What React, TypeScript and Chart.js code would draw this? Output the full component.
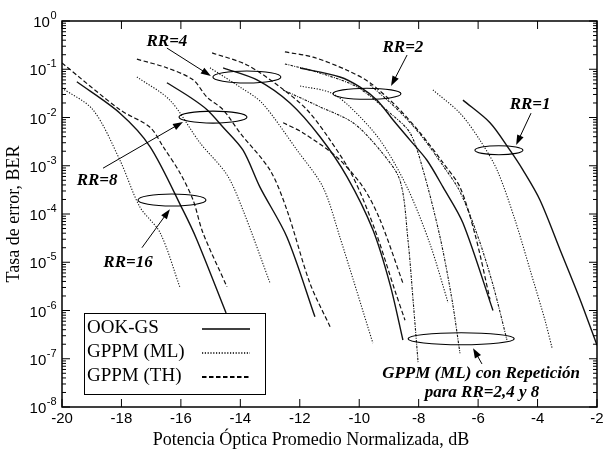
import React, { useEffect, useRef } from "react";
import { Chart, registerables } from "chart.js";
Chart.register(...registerables);

// ---- axis ticks ----
const xTicks = [-20, -18, -16, -14, -12, -10, -8, -6, -4, -2];
const yDecades = [0, -1, -2, -3, -4, -5, -6, -7, -8];

// ---- RR=16 ----
const ook16X = [-19.5, -18.05, -17.04, -15.93, -15.46, -14.48];
const ook16Y = [0.055, 0.0123, 2.5e-3, 1.2e-4, 2.9e-5, 8.9e-7];
const ml16X = [-20.0, -18.96, -18.05, -17.38, -16.7, -16.03];
const ml16Y = [0.0407, 0.0145, 1.3e-3, 1.4e-4, 4.1e-5, 3.0e-6];
const th16X = [-20.0, -18.05, -17.04, -16.6, -16.03, -15.59, -15.26, -14.45];
const th16Y = [0.135, 0.0145, 6.3e-3, 2.5e-3, 7.1e-4, 1.95e-4, 4.1e-5, 3.1e-6];

// ---- RR=8 ----
const ook8X = [-16.47, -15.69, -15.12, -14.58, -13.91, -13.34, -12.43, -11.49];
const ook8Y = [0.0525, 0.0263, 0.0145, 6.3e-3, 2.1e-3, 3.6e-4, 3.3e-5, 7.4e-7];
const ml8X = [-17.48, -16.37, -15.36, -14.45, -13.91, -13.0];
const ml8Y = [0.0692, 0.0229, 3.0e-3, 6.5e-4, 1.2e-4, 3.7e-6];
const th8X = [-17.48, -16.47, -15.59, -15.12, -14.58, -14.01, -13.0, -12.43, -11.66, -10.98];
const th8Y = [0.162, 0.107, 0.0603, 0.0263, 0.0145, 4.8e-3, 8.1e-4, 1.2e-4, 3.7e-6, 4.6e-7];

// ---- RR=4 ----
const ook4X = [-14.58, -13.44, -12.33, -11.32, -10.41, -9.54, -8.96, -8.53];
const ook4Y = [0.107, 0.0603, 0.02, 4.0e-3, 5.9e-4, 4.7e-5, 3.4e-6, 2.45e-7];
const ml4X = [-15.02, -14.01, -13.27, -12.09, -11.22, -10.65, -9.54];
const ml4Y = [0.107, 0.0427, 0.02, 2.1e-3, 3.6e-4, 3.3e-5, 2.1e-7];
const th4X = [-14.95, -13.78, -12.66, -11.76, -10.98, -10.21, -9.47, -8.8, -8.46];
const th4Y = [0.219, 0.123, 0.0427, 0.0145, 3.4e-3, 5.9e-4, 4.7e-5, 2.6e-6, 6.3e-7];
const th4bX = [-12.56, -11.89, -10.75, -9.87, -9.3, -8.53];
const th4bY = [7.8e-3, 4.8e-3, 1.5e-3, 3.6e-4, 7.6e-5, 3.7e-6];

// ---- RR=2 ----
const ook2X = [-11.99, -10.65, -9.97, -9.4, -8.86, -8.29, -7.72, -7.18, -6.51, -5.5];
const ook2Y = [0.106, 0.0692, 0.0427, 0.0229, 8.9e-3, 3.4e-3, 1.3e-3, 3.6e-4, 6.5e-5, 1.0e-6];
const ml2X = [-11.99, -10.98, -10.31, -9.3, -8.39, -7.62, -7.01];
const ml2Y = [0.045, 0.0331, 0.0166, 3.4e-3, 3.6e-4, 2.4e-5, 1.45e-6];
const th2X = [-12.5, -11.55, -10.41, -9.64, -8.73, -7.95, -7.18, -6.61, -6.1, -5.6];
const th2Y = [0.229, 0.178, 0.0955, 0.0525, 0.0166, 4.8e-3, 1.15e-3, 3.6e-4, 3.7e-5, 1.7e-6];

// ---- RR=1 ----
const ook1X = [-6.51, -5.6, -4.93, -4.49, -3.92, -3.24, -2.57, -2.0];
const ook1Y = [0.0229, 7.8e-3, 2.1e-3, 8.1e-4, 1.95e-4, 1.8e-5, 1.7e-6, 1.9e-7];
const ml1X = [-7.52, -6.61, -5.94, -5.36, -4.76, -4.25, -3.75, -3.51];
const ml1Y = [0.0372, 0.0123, 3.4e-3, 8.1e-4, 7.6e-5, 6.9e-6, 6.3e-7, 1.66e-7];

// ---- GPPM (ML) con repetición, RR = 8, 4, 2 ----
const rep8X = [-12.56, -11.32, -10.21, -9.3, -8.63, -8.36, -8.19, -8.02];
const rep8Y = [0.0372, 0.0166, 7.8e-3, 2.1e-3, 5.0e-4, 2.9e-5, 1.7e-6, 8.5e-8];
const rep4X = [-12.5, -11.42, -10.07, -8.96, -8.29, -7.85, -7.28, -6.88, -6.61];
const rep4Y = [0.129, 0.0871, 0.0427, 0.0123, 4.8e-3, 8.1e-4, 3.3e-5, 1.7e-6, 1.3e-7];
const rep2X = [-9.64, -8.73, -7.95, -7.18, -6.61, -6.0, -5.5, -5.03];
const rep2Y = [0.048, 0.015, 4.5e-3, 1.0e-3, 2.9e-4, 3.3e-5, 3.4e-6, 2.45e-7];

// ---- annotations (data coordinates) ----
const ellipses = [
  { x: -13.78, y: 0.069, rx: 34, ry: 6 },
  { x: -14.92, y: 0.0102, rx: 34, ry: 6 },
  { x: -16.3, y: 1.95e-4, rx: 34, ry: 6 },
  { x: -9.74, y: 0.031, rx: 34, ry: 5.5 },
  { x: -5.3, y: 2.1e-3, rx: 24, ry: 4.5 },
  { x: -6.57, y: 2.6e-7, rx: 53, ry: 6 },
];
const labels = [
  { text: "RR=4", x: -16.47, y: 0.367 },
  { text: "RR=8", x: -18.82, y: 5.0e-4 },
  { text: "RR=16", x: -17.78, y: 9.6e-6 },
  { text: "RR=2", x: -8.53, y: 0.275 },
  { text: "RR=1", x: -4.25, y: 0.0182 },
];
const noteLines = [
  { text: "GPPM (ML) con Repetición", x: -5.9, y: 5.0e-8 },
  { text: "para RR=2,4 y 8", x: -5.87, y: 2.0e-8 },
];
const arrows = [
  { x1: -16.47, y1: 0.275, x2: -14.99, y2: 0.0724 },
  { x1: -18.62, y1: 8.9e-4, x2: -15.93, y2: 8.1e-3 },
  { x1: -17.31, y1: 2.0e-5, x2: -16.37, y2: 1.26e-4 },
  { x1: -8.39, y1: 0.197, x2: -8.93, y2: 0.0448 },
  { x1: -4.22, y1: 0.0123, x2: -4.72, y2: 2.7e-3 },
  { x1: -5.87, y1: 7.8e-8, x2: -6.17, y2: 1.66e-7 },
];
const legendItems = ["OOK-GS", "GPPM (ML)", "GPPM (TH)"];

const SOLID: number[] = [];
const DOT = [1.2, 1.6];
const DASH = [4.5, 2.5];
const REP = [2.5, 1.2, 1, 1.2];

function ds(xs: number[], ys: number[], dash: number[], width: number) {
  return {
    data: xs.map((x, i) => ({ x, y: ys[i] })),
    borderColor: "#111",
    borderWidth: width,
    borderDash: dash,
    pointRadius: 0,
    fill: false,
    tension: 0.3,
  };
}

const overlay = {
  id: "overlay",
  afterDatasetsDraw(chart: any) {
    const ctx = chart.ctx as CanvasRenderingContext2D;
    const xs = chart.scales.x;
    const ys = chart.scales.y;
    const a = chart.chartArea;
    const px = (v: number) => xs.getPixelForValue(v);
    const py = (v: number) => ys.getPixelForValue(v);
    ctx.save();
    ctx.strokeStyle = "#000";
    ctx.fillStyle = "#000";
    ctx.setLineDash([]);

    // ellipses
    ctx.lineWidth = 1.1;
    ellipses.forEach((e) => {
      ctx.beginPath();
      ctx.ellipse(px(e.x), py(e.y), e.rx, e.ry, 0, 0, Math.PI * 2);
      ctx.stroke();
    });
    // arrows
    arrows.forEach((r) => {
      const x1 = px(r.x1), y1 = py(r.y1), x2 = px(r.x2), y2 = py(r.y2);
      const ang = Math.atan2(y2 - y1, x2 - x1);
      const L = 10, W = 3.5;
      ctx.lineWidth = 1;
      ctx.beginPath();
      ctx.moveTo(x1, y1);
      ctx.lineTo(x2 - Math.cos(ang) * L * 0.8, y2 - Math.sin(ang) * L * 0.8);
      ctx.stroke();
      ctx.beginPath();
      ctx.moveTo(x2, y2);
      ctx.lineTo(x2 - Math.cos(ang) * L - Math.sin(ang) * W, y2 - Math.sin(ang) * L + Math.cos(ang) * W);
      ctx.lineTo(x2 - Math.cos(ang) * L + Math.sin(ang) * W, y2 - Math.sin(ang) * L - Math.cos(ang) * W);
      ctx.closePath();
      ctx.fill();
    });
    // labels
    ctx.textAlign = "center";
    ctx.textBaseline = "middle";
    ctx.font = "bold italic 17px 'Liberation Serif', 'Times New Roman', serif";
    labels.forEach((l) => ctx.fillText(l.text, px(l.x), py(l.y)));
    ctx.font = "bold italic 17px 'Liberation Serif', 'Times New Roman', serif";
    noteLines.forEach((l) => ctx.fillText(l.text, px(l.x), py(l.y)));

    // frame
    ctx.lineWidth = 1.5;
    ctx.strokeRect(a.left, a.top, a.right - a.left, a.bottom - a.top);
    // y ticks
    ctx.lineWidth = 1;
    yDecades.forEach((d) => {
      const y = py(Math.pow(10, d));
      ctx.beginPath();
      ctx.moveTo(a.left, y); ctx.lineTo(a.left + 8, y);
      ctx.moveTo(a.right, y); ctx.lineTo(a.right - 8, y);
      ctx.stroke();
      if (d < 0) {
        for (let k = 2; k <= 9; k++) {
          const ym = py(k * Math.pow(10, d));
          ctx.beginPath();
          ctx.moveTo(a.left, ym); ctx.lineTo(a.left + 4, ym);
          ctx.moveTo(a.right, ym); ctx.lineTo(a.right - 4, ym);
          ctx.stroke();
        }
      }
      // label 10^d
      ctx.textBaseline = "middle";
      const exp = String(d);
      ctx.font = "11px 'Liberation Sans', Arial, sans-serif";
      const ew = ctx.measureText(exp).width;
      const baseRight = a.left - 6 - ew;
      ctx.textAlign = "right";
      ctx.font = "15px 'Liberation Sans', Arial, sans-serif";
      ctx.fillText("10", baseRight, y + 2);
      ctx.font = "11px 'Liberation Sans', Arial, sans-serif";
      ctx.textAlign = "left";
      ctx.fillText(exp, baseRight + 0.5, y - 5);
    });
    // x ticks
    ctx.font = "15px 'Liberation Sans', Arial, sans-serif";
    ctx.textAlign = "center";
    ctx.textBaseline = "top";
    xTicks.forEach((t) => {
      const x = px(t);
      ctx.beginPath();
      ctx.moveTo(x, a.bottom); ctx.lineTo(x, a.bottom - 8);
      ctx.moveTo(x, a.top); ctx.lineTo(x, a.top + 8);
      ctx.stroke();
      ctx.fillText(String(t), x, a.bottom + 4);
    });
    // axis titles
    ctx.font = "18px 'Liberation Serif', 'Times New Roman', serif";
    ctx.textBaseline = "middle";
    ctx.fillText("Potencia Óptica Promedio Normalizada, dB", 311, a.bottom + 33);
    ctx.save();
    ctx.translate(14, (a.top + a.bottom) / 2);
    ctx.rotate(-Math.PI / 2);
    ctx.fillText("Tasa de error, BER", 0, 0);
    ctx.restore();

    // legend
    const lx = 84, ly = 313, lw = 181, lh = 81;
    ctx.fillStyle = "#fff";
    ctx.fillRect(lx, ly, lw, lh);
    ctx.fillStyle = "#000";
    ctx.lineWidth = 1;
    ctx.strokeRect(lx + 0.5, ly + 0.5, lw, lh);
    ctx.font = "19px 'Liberation Serif', 'Times New Roman', serif";
    ctx.textAlign = "left";
    const dashes = [SOLID, DOT, DASH];
    const widths = [1.5, 1.3, 1.8];
    legendItems.forEach((t, i) => {
      const yy = ly + 15 + i * 24;
      ctx.fillText(t, lx + 3, yy);
      ctx.setLineDash(dashes[i]);
      ctx.lineWidth = widths[i];
      ctx.beginPath();
      ctx.moveTo(lx + 118, yy + 1);
      ctx.lineTo(lx + 166, yy + 1);
      ctx.stroke();
    });
    ctx.restore();
  },
};

export default function App() {
  const ref = useRef<HTMLCanvasElement>(null);
  useEffect(() => {
    if (!ref.current) return;
    const chart = new Chart(ref.current, {
      type: "line",
      data: {
        datasets: [
          ds(ook16X, ook16Y, SOLID, 1.4),
          ds(ml16X, ml16Y, DOT, 1.1),
          ds(th16X, th16Y, DASH, 1.2),
          ds(ook8X, ook8Y, SOLID, 1.4),
          ds(ml8X, ml8Y, DOT, 1.1),
          ds(th8X, th8Y, DASH, 1.2),
          ds(ook4X, ook4Y, SOLID, 1.4),
          ds(ml4X, ml4Y, DOT, 1.1),
          ds(th4X, th4Y, DASH, 1.2),
          ds(th4bX, th4bY, DASH, 1.2),
          ds(ook2X, ook2Y, SOLID, 1.4),
          ds(ml2X, ml2Y, DOT, 1.1),
          ds(th2X, th2Y, DASH, 1.2),
          ds(ook1X, ook1Y, SOLID, 1.4),
          ds(ml1X, ml1Y, DOT, 1.1),
          ds(rep8X, rep8Y, REP, 1.1),
          ds(rep4X, rep4Y, REP, 1.1),
          ds(rep2X, rep2Y, REP, 1.1),
        ] as any,
      },
      options: {
        animation: false,
        responsive: false,
        devicePixelRatio: 1,
        layout: { padding: { left: 62, right: 8, top: 21, bottom: 43 } },
        plugins: { legend: { display: false }, tooltip: { enabled: false } },
        scales: {
          x: { type: "linear", min: -20, max: -2, display: false },
          y: { type: "logarithmic", min: 1e-8, max: 1, display: false },
        },
      },
      plugins: [overlay],
    });
    return () => chart.destroy();
  }, []);
  return (
    <div style={{ position: "fixed", left: 0, top: 0, width: 605, height: 450, background: "#fff" }}>
      <canvas ref={ref} width={605} height={450} style={{ width: 605, height: 450 }} />
    </div>
  );
}
